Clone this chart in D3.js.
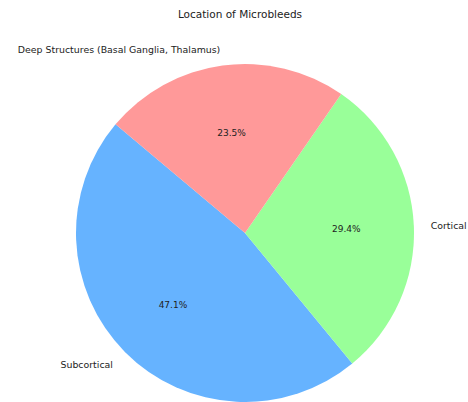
<!DOCTYPE html>
<html>
<head>
<meta charset="utf-8">
<script src="https://cdn.jsdelivr.net/npm/d3@7"></script>
<style>
  body { margin: 0; background: #fff; }
  svg { display: block; font-family: "DejaVu Sans", sans-serif; }
</style>
</head>
<body>
<svg width="468" height="402"></svg>
<script>
// data
var labels = ["Subcortical", "Cortical", "Deep Structures (Basal Ganglia, Thalamus)"];
var counts = [8, 5, 4];
var colors = ["#66b3ff", "#99ff99", "#ff9999"];
var title = "Location of Microbleeds";

var svg = d3.select("svg"),
  cx = 245, cy = 233, r = 169;

// matplotlib style: startangle 140 deg, counterclockwise from +x
var startAngle = 140;
var total = d3.sum(counts);
var pieData = d3.pie().sort(null).value(d => d)(counts)
  .map(function (d, i) {
    return {
      i: i,
      value: d.value,
      // flip d3 angles (clockwise from 12 o'clock) to counterclockwise
      startAngle: (90 - startAngle) * Math.PI / 180 - d.endAngle,
      endAngle: (90 - startAngle) * Math.PI / 180 - d.startAngle
    };
  });

var arc = d3.arc().innerRadius(0).outerRadius(r);

var g = svg.append("g").attr("transform", "translate(" + cx + "," + cy + ")");

g.selectAll("path")
  .data(pieData)
  .enter().append("path")
  .attr("d", arc)
  .attr("fill", d => colors[d.i]);

function mid(d) { return (d.startAngle + d.endAngle) / 2; }

// outer labels at 1.1r
g.selectAll("text.label")
  .data(pieData)
  .enter().append("text")
  .attr("class", "label")
  .attr("x", d => Math.sin(mid(d)) * r * 1.1)
  .attr("y", d => -Math.cos(mid(d)) * r * 1.1)
  .attr("dy", "0.4em")
  .attr("text-anchor", d => Math.sin(mid(d)) < 0 ? "end" : "start")
  .attr("font-size", 9.4)
  .attr("fill", "#222")
  .text(d => labels[d.i]);

// percentages at 0.6r
g.selectAll("text.pct")
  .data(pieData)
  .enter().append("text")
  .attr("class", "pct")
  .attr("x", d => Math.sin(mid(d)) * r * 0.6)
  .attr("y", d => -Math.cos(mid(d)) * r * 0.6)
  .attr("dy", "0.4em")
  .attr("text-anchor", "middle")
  .attr("font-size", 9)
  .attr("fill", "#222")
  .text(d => (d.value / total * 100).toFixed(1) + "%");

svg.append("text")
  .attr("x", 240)
  .attr("y", 18)
  .attr("text-anchor", "middle")
  .attr("font-size", 10.5)
  .attr("fill", "#222")
  .text(title);
</script>
</body>
</html>
